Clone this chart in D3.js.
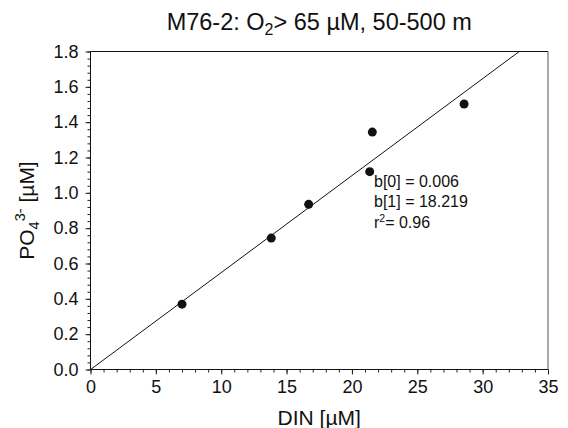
<!DOCTYPE html>
<html>
<head>
<meta charset="utf-8">
<script src="https://cdn.jsdelivr.net/npm/d3@7"></script>
<style>
  html, body { margin: 0; padding: 0; background: #fff; }
  svg { display: block; font-family: "Liberation Sans", Arial, Helvetica, sans-serif; }
</style>
</head>
<body>
<svg id="chart" width="568" height="428"></svg>
<script>
// DIN vs phosphate, M76-2 cruise samples (O2 > 65 µM, 50-500 m)
const din = [7.0, 13.83, 16.69, 21.36, 21.56, 28.58];
const po4 = [0.37, 0.744, 0.935, 1.12, 1.344, 1.503];

// Linear regression DIN = b0 + b1 * PO4
const b0 = 0.006;
const b1 = 18.219;
const r2 = 0.96;

const xTicks = [0, 5, 10, 15, 20, 25, 30, 35];
const yTicks = [0.0, 0.2, 0.4, 0.6, 0.8, 1.0, 1.2, 1.4, 1.6, 1.8];

const svg = d3.select("#chart");
const plotLeft = 90.5, plotRight = 548, plotTop = 51.5, plotBottom = 369.5;

const x = d3.scaleLinear().domain([0, 35]).range([plotLeft, plotRight]);
const y = d3.scaleLinear().domain([0, 1.8]).range([plotBottom, plotTop]);

// clip region for the regression line
svg.append("defs").append("clipPath").attr("id", "plotClip")
  .append("rect").attr("x", plotLeft).attr("y", plotTop)
  .attr("width", plotRight - plotLeft).attr("height", plotBottom - plotTop);

// minor ticks
const xMinor = d3.range(0, 35.001, 1);
const yMinor = d3.range(0, 1.8001, 0.04);

const gx = svg.append("g").attr("transform", `translate(0,${plotBottom})`);
gx.call(d3.axisBottom(x).tickValues(xMinor).tickSize(3).tickFormat(""))
  .call(g => g.select(".domain").remove());
gx.append("g").call(d3.axisBottom(x).tickValues(xTicks).tickSize(5).tickPadding(6)
    .tickFormat(d3.format("d")))
  .call(g => g.select(".domain").remove())
  .call(g => g.selectAll("text").attr("font-size", 18).attr("fill", "#111")
      .attr("font-family", "Liberation Sans, Arial, sans-serif"));

const gy = svg.append("g").attr("transform", `translate(${plotLeft},0)`);
gy.call(d3.axisLeft(y).tickValues(yMinor).tickSize(3).tickFormat(""))
  .call(g => g.select(".domain").remove());
gy.append("g").call(d3.axisLeft(y).tickValues(yTicks).tickSize(5).tickPadding(7)
    .tickFormat(d3.format(".1f")))
  .call(g => g.select(".domain").remove())
  .call(g => g.selectAll("text").attr("font-size", 18).attr("fill", "#111")
      .attr("font-family", "Liberation Sans, Arial, sans-serif"));

svg.selectAll(".tick line").attr("stroke", "#222");

// frame
svg.append("line").attr("x1", plotLeft).attr("x2", plotRight).attr("y1", plotBottom).attr("y2", plotBottom)
  .attr("stroke", "#111");
svg.append("line").attr("x1", plotLeft).attr("x2", plotLeft).attr("y1", plotTop).attr("y2", plotBottom)
  .attr("stroke", "#111");
svg.append("line").attr("x1", plotLeft).attr("x2", plotRight).attr("y1", plotTop).attr("y2", plotTop)
  .attr("stroke", "#111");
svg.append("line").attr("x1", plotRight).attr("x2", plotRight).attr("y1", plotTop).attr("y2", plotBottom)
  .attr("stroke", "#555");

// regression line
const yLine = [0, 1.8];
svg.append("line")
  .attr("clip-path", "url(#plotClip)")
  .attr("x1", x(b0 + b1 * yLine[0])).attr("y1", y(yLine[0]))
  .attr("x2", x(b0 + b1 * yLine[1])).attr("y2", y(yLine[1]))
  .attr("stroke", "#111").attr("stroke-width", 1);

// data points
svg.append("g").selectAll("circle")
  .data(din.map((d, i) => [d, po4[i]]))
  .join("circle")
  .attr("cx", d => x(d[0])).attr("cy", d => y(d[1]))
  .attr("r", 4.5).attr("fill", "#111");

// regression statistics
const stats = svg.append("g").attr("font-size", 16).attr("fill", "#111");
stats.append("text").attr("x", 374).attr("y", 187).text(`b[0] = ${b0.toFixed(3)}`);
stats.append("text").attr("x", 374).attr("y", 206.5).text(`b[1] = ${b1.toFixed(3)}`);
const rt = stats.append("text").attr("x", 374).attr("y", 228);
rt.append("tspan").text("r");
rt.append("tspan").attr("font-size", 10.5).attr("dy", -6.5).text("2");
rt.append("tspan").attr("dy", 6.5).text(`= ${r2.toFixed(2)}`);

// title
const title = svg.append("text").attr("x", (plotLeft + plotRight) / 2).attr("y", 29.5)
  .attr("text-anchor", "middle").attr("font-size", 23.5).attr("fill", "#111");
title.append("tspan").text("M76-2: O");
title.append("tspan").attr("font-size", 16).attr("dy", 5).text("2");
title.append("tspan").attr("dy", -5).text("> 65 µM, 50-500 m");

// x axis title
svg.append("text").attr("x", (plotLeft + plotRight) / 2).attr("y", 425)
  .attr("text-anchor", "middle").attr("font-size", 21).attr("fill", "#111")
  .text("DIN [µM]");

// y axis title
const yl = svg.append("text")
  .attr("transform", `translate(34,${(plotTop + plotBottom) / 2}) rotate(-90)`)
  .attr("text-anchor", "middle").attr("font-size", 21).attr("fill", "#111");
yl.append("tspan").text("PO");
yl.append("tspan").attr("font-size", 14.5).attr("dy", 5).text("4");
yl.append("tspan").attr("font-size", 14.5).attr("dy", -14).text("3-");
yl.append("tspan").attr("dy", 9).text(" [µM]");
</script>
</body>
</html>
